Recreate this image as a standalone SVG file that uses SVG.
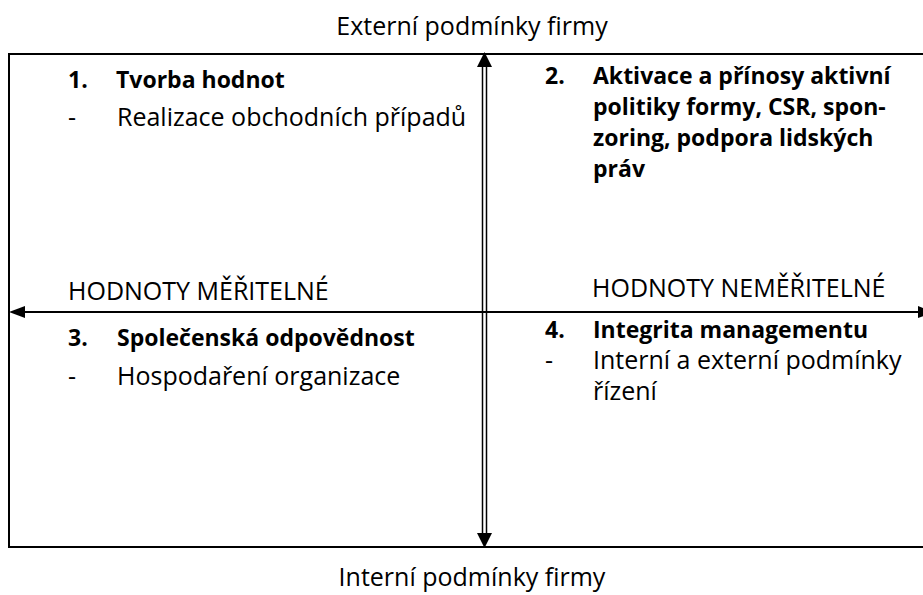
<svg xmlns="http://www.w3.org/2000/svg" width="923" height="595" viewBox="0 0 923 595">
<style>
text{font-family:"Open Sans","Noto Sans","Liberation Sans",sans-serif;fill:#000}
.r{font-size:25px;font-weight:400}
.b{font-size:23px;font-weight:700}
.ln{stroke:#000;fill:none}
.ah{fill:#000;stroke:none}
</style>
<rect width="923" height="595" fill="#fff"/>
<g id="frame">
<rect x="9" y="54" width="930" height="493" fill="none" stroke="#000" stroke-width="2"/>
</g>
<g id="connectors">
<line class="ln" x1="482.5" y1="66" x2="482.5" y2="534" stroke-width="1.5"/>
<line class="ln" x1="486.5" y1="66" x2="486.5" y2="534" stroke-width="1.5"/>
<polygon class="ah" points="484.5,52 477,67 492,67"/>
<polygon class="ah" points="484.5,548 477,533 492,533"/>
<line class="ln" x1="24" y1="312" x2="918" y2="312" stroke-width="2"/>
<polygon class="ah" points="9,312 25,306 25,318"/>
<polygon class="ah" points="934,312 918,306 918,318"/>
</g>
<g id="title-top"><text class="r" x="472" y="35" text-anchor="middle">Externí podmínky firmy</text></g>
<g id="title-bottom"><text class="r" x="472" y="586" text-anchor="middle">Interní podmínky firmy</text></g>
<g id="q1">
<text class="b" x="68" y="88">1.</text>
<text class="b" x="116" y="88">Tvorba hodnot</text>
<text class="r" x="68" y="126">-</text>
<text class="r" x="117" y="126">Realizace obchodních případů</text>
</g>
<g id="q2">
<text class="b" x="545" y="84">2.</text>
<text class="b" x="593" y="84">Aktivace a přínosy aktivní</text>
<text class="b" x="593" y="115">politiky formy, CSR, spon-</text>
<text class="b" x="593" y="146">zoring, podpora lidských</text>
<text class="b" x="593" y="177">práv</text>
</g>
<g id="axis-left"><text class="r" x="68" y="300">HODNOTY MĚŘITELNÉ</text></g>
<g id="axis-right"><text class="r" x="592" y="297">HODNOTY NEMĚŘITELNÉ</text></g>
<g id="q3">
<text class="b" x="68" y="346">3.</text>
<text class="b" x="117" y="346">Společenská odpovědnost</text>
<text class="r" x="68" y="385">-</text>
<text class="r" x="117" y="385">Hospodaření organizace</text>
</g>
<g id="q4">
<text class="b" x="545" y="338">4.</text>
<text class="b" x="593" y="338">Integrita managementu</text>
<text class="r" x="545" y="369">-</text>
<text class="r" x="593" y="369">Interní a externí podmínky</text>
<text class="r" x="593" y="400">řízení</text>
</g>
</svg>
